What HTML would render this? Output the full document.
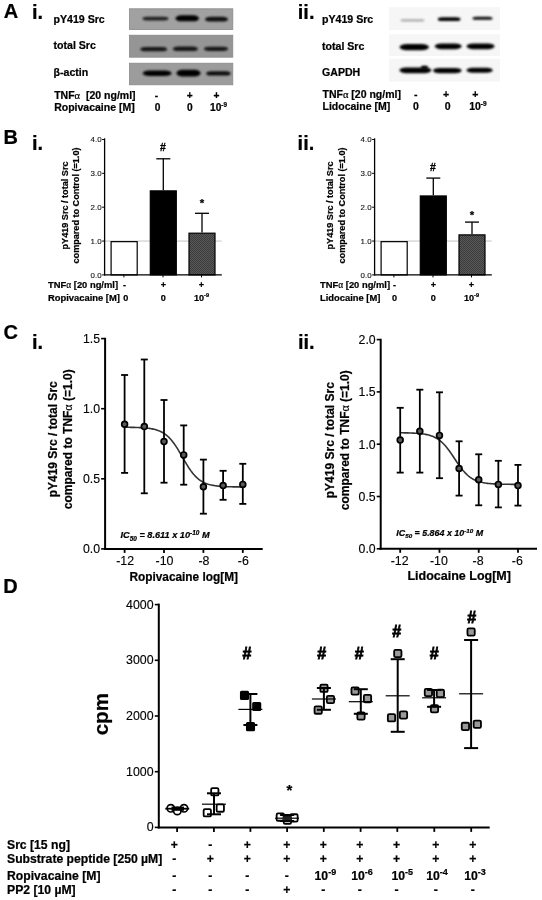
<!DOCTYPE html>
<html><head><meta charset="utf-8"><style>
html,body{margin:0;padding:0;background:#fff;}
svg{display:block;font-family:"Liberation Sans", sans-serif;}
text[font-weight="bold"]{stroke:#000;stroke-width:0.22px;}
text[font-weight="normal"]{stroke:#000;stroke-width:0.12px;}
</style></head><body>
<svg style="will-change:transform" width="542" height="900" viewBox="0 0 542 900">
<defs>
<filter id="bl1" x="-50%" y="-100%" width="200%" height="300%"><feGaussianBlur stdDeviation="1.05"/></filter>
<filter id="bl3" x="-5%" y="-20%" width="110%" height="140%"><feGaussianBlur stdDeviation="0.45"/></filter>
<filter id="bl2" x="-50%" y="-100%" width="200%" height="300%"><feGaussianBlur stdDeviation="0.8"/></filter>
<pattern id="hatch" width="2" height="2" patternUnits="userSpaceOnUse"><rect width="2" height="2" fill="#585858"/><rect width="1" height="1" fill="#3c3c3c"/><rect x="1" y="1" width="1" height="1" fill="#3c3c3c"/></pattern>
</defs>
<rect width="542" height="900" fill="#fff"/>
<text x="3.8" y="17.5" font-size="20" font-weight="bold" text-anchor="start" fill="#000" >A</text>
<text x="31.9" y="18.5" font-size="20" font-weight="bold" text-anchor="start" fill="#000" >i.</text>
<text x="297.8" y="19.2" font-size="20" font-weight="bold" text-anchor="start" fill="#000" >ii.</text>
<text x="53.5" y="23.3" font-size="10.6" font-weight="bold" text-anchor="start" fill="#000" >pY419 Src</text>
<text x="53.5" y="49" font-size="10.6" font-weight="bold" text-anchor="start" fill="#000" >total Src</text>
<text x="53.5" y="76" font-size="10.6" font-weight="bold" text-anchor="start" fill="#000" >β-actin</text>
<text x="322" y="23.3" font-size="10.6" font-weight="bold" text-anchor="start" fill="#000" >pY419 Src</text>
<text x="322" y="49.7" font-size="10.6" font-weight="bold" text-anchor="start" fill="#000" >total Src</text>
<text x="322" y="76.1" font-size="10.6" font-weight="bold" text-anchor="start" fill="#000" >GAPDH</text>
<rect x="129.5" y="8.8" width="103.3" height="20.8" fill="#a1a1a1" stroke="#8a8a8a" stroke-width="0.8" filter="url(#bl3)"/>
<rect x="129.5" y="35.199999999999996" width="103.3" height="22.000000000000004" fill="#959595" stroke="#8a8a8a" stroke-width="0.8" filter="url(#bl3)"/>
<rect x="129.5" y="63.199999999999996" width="103.3" height="21.600000000000005" fill="#9c9c9c" stroke="#8a8a8a" stroke-width="0.8" filter="url(#bl3)"/>
<rect x="142.5" y="16.700000000000003" width="26.0" height="3.8" rx="4.56" ry="1.9" fill="#000" fill-opacity="0.8" filter="url(#bl1)"/>
<rect x="175.5" y="15.3" width="23.5" height="6" rx="5.875" ry="3.0" fill="#000" fill-opacity="1" filter="url(#bl1)"/>
<rect x="205" y="16.8" width="23" height="4.8" rx="5.75" ry="2.4" fill="#000" fill-opacity="0.9" filter="url(#bl1)"/>
<rect x="140.5" y="47.050000000000004" width="26.5" height="4.3" rx="5.159999999999999" ry="2.15" fill="#000" fill-opacity="0.85" filter="url(#bl1)"/>
<rect x="172.8" y="46.5" width="25.19999999999999" height="4.6" rx="5.52" ry="2.3" fill="#000" fill-opacity="0.85" filter="url(#bl1)"/>
<rect x="204" y="46.699999999999996" width="24" height="4.2" rx="5.04" ry="2.1" fill="#000" fill-opacity="0.85" filter="url(#bl1)"/>
<rect x="142.8" y="70.4" width="28.69999999999999" height="5.6" rx="6.72" ry="2.8" fill="#000" fill-opacity="1" filter="url(#bl1)"/>
<rect x="176.5" y="69.8" width="24.0" height="6.8" rx="6.0" ry="3.4" fill="#000" fill-opacity="1" filter="url(#bl1)"/>
<rect x="206.3" y="71.2" width="24.19999999999999" height="4.4" rx="5.28" ry="2.2" fill="#000" fill-opacity="0.92" filter="url(#bl1)"/>
<rect x="389" y="7.2" width="111" height="22.8" fill="#f6f6f6" stroke="none" stroke-width="1" />
<rect x="389" y="34.3" width="111" height="21.700000000000003" fill="#f6f6f6" stroke="none" stroke-width="1" />
<rect x="389" y="58.8" width="111" height="22.799999999999997" fill="#f6f6f6" stroke="none" stroke-width="1" />
<rect x="400.5" y="19.299999999999997" width="24.0" height="2.2" rx="2.64" ry="1.1" fill="#000" fill-opacity="0.32" filter="url(#bl2)"/>
<rect x="437.8" y="17.3" width="22.69999999999999" height="3.8" rx="4.56" ry="1.9" fill="#000" fill-opacity="1" filter="url(#bl2)"/>
<rect x="472.5" y="16.7" width="20.0" height="3" rx="3.5999999999999996" ry="1.5" fill="#000" fill-opacity="0.95" filter="url(#bl2)"/>
<rect x="399.5" y="44.0" width="29.5" height="6.2" rx="7.375" ry="3.1" fill="#000" fill-opacity="1" filter="url(#bl2)"/>
<rect x="434.8" y="43.4" width="26.80000000000001" height="5.8" rx="6.700000000000003" ry="2.9" fill="#000" fill-opacity="1" filter="url(#bl2)"/>
<rect x="466.5" y="43.4" width="28.100000000000023" height="5.8" rx="6.96" ry="2.9" fill="#000" fill-opacity="1" filter="url(#bl2)"/>
<rect x="399.4" y="67.39999999999999" width="32.0" height="5.8" rx="6.96" ry="2.9" fill="#000" fill-opacity="1" filter="url(#bl2)"/>
<rect x="433" y="67.89999999999999" width="28.600000000000023" height="5.4" rx="6.48" ry="2.7" fill="#000" fill-opacity="1" filter="url(#bl2)"/>
<rect x="466.6" y="67.8" width="26.0" height="5" rx="6.0" ry="2.5" fill="#000" fill-opacity="1" filter="url(#bl2)"/>
<rect x="421" y="65.75" width="7" height="3.5" rx="1.5" ry="1.75" fill="#000" fill-opacity="1" filter="url(#bl2)"/>
<text x="54.2" y="99.4" font-size="10.5" font-weight="bold" text-anchor="start" fill="#000" xml:space="preserve">TNF<tspan font-family="Liberation Serif" font-weight="normal">α</tspan>  [20 ng/ml]</text>
<text x="54.2" y="110.5" font-size="10.5" font-weight="bold" text-anchor="start" fill="#000" >Ropivacaine [M]</text>
<text x="322.5" y="98.3" font-size="10.5" font-weight="bold" text-anchor="start" fill="#000" >TNF<tspan font-family="Liberation Serif" font-weight="normal">α</tspan> [20 ng/ml]</text>
<text x="322.5" y="109.9" font-size="10.5" font-weight="bold" text-anchor="start" fill="#000" >Lidocaine [M]</text>
<text x="156.5" y="99" font-size="10.2" font-weight="bold" text-anchor="middle" fill="#000" >-</text>
<text x="189.8" y="99" font-size="10.2" font-weight="bold" text-anchor="middle" fill="#000" >+</text>
<text x="216.4" y="99" font-size="10.2" font-weight="bold" text-anchor="middle" fill="#000" >+</text>
<text x="157.5" y="110.5" font-size="10.2" font-weight="bold" text-anchor="middle" fill="#000" >0</text>
<text x="189.8" y="110.5" font-size="10.2" font-weight="bold" text-anchor="middle" fill="#000" >0</text>
<text x="218.5" y="110.5" font-size="10.2" font-weight="bold" text-anchor="middle">10<tspan font-size="6.324" dy="-4">-9</tspan></text>
<text x="415.7" y="98.3" font-size="10.5" font-weight="bold" text-anchor="middle" fill="#000" >-</text>
<text x="446" y="98.3" font-size="10.5" font-weight="bold" text-anchor="middle" fill="#000" >+</text>
<text x="475.2" y="98.3" font-size="10.5" font-weight="bold" text-anchor="middle" fill="#000" >+</text>
<text x="416" y="109.9" font-size="10.5" font-weight="bold" text-anchor="middle" fill="#000" >0</text>
<text x="447.6" y="109.9" font-size="10.5" font-weight="bold" text-anchor="middle" fill="#000" >0</text>
<text x="477.9" y="109.9" font-size="10.5" font-weight="bold" text-anchor="middle">10<tspan font-size="6.51" dy="-4">-9</tspan></text>
<text x="3.6" y="143.5" font-size="20" font-weight="bold" text-anchor="start" fill="#000" >B</text>
<text x="31.9" y="149.7" font-size="20" font-weight="bold" text-anchor="start" fill="#000" >i.</text>
<text x="297.6" y="149.6" font-size="20" font-weight="bold" text-anchor="start" fill="#000" >ii.</text>
<line x1="104.6" y1="241.04999999999998" x2="221.6" y2="241.04999999999998" stroke="#999" stroke-width="0.6" />
<rect x="111.1" y="241.64999999999998" width="26.100000000000012" height="33.24999999999999" fill="#fff" stroke="#000" stroke-width="1.2" />
<line x1="163.3" y1="190.27499999999998" x2="163.3" y2="158.79449999999997" stroke="#000" stroke-width="1.3" />
<line x1="156.3" y1="158.79449999999997" x2="170.3" y2="158.79449999999997" stroke="#000" stroke-width="1.3" />
<rect x="150.29999999999998" y="190.87499999999997" width="26.000000000000018" height="84.025" fill="#000" stroke="#000" stroke-width="1.2" />
<line x1="202.0" y1="232.58749999999998" x2="202.0" y2="213.29299999999998" stroke="#000" stroke-width="1.3" />
<line x1="195.0" y1="213.29299999999998" x2="209.0" y2="213.29299999999998" stroke="#000" stroke-width="1.3" />
<rect x="189.0" y="233.18749999999997" width="25.99999999999999" height="41.7125" fill="url(#hatch)" stroke="#000" stroke-width="1.2" />
<line x1="104.6" y1="138.3" x2="104.6" y2="275.5" stroke="#000" stroke-width="1.3" />
<line x1="104.0" y1="274.9" x2="221.8" y2="274.9" stroke="#000" stroke-width="1.3" />
<line x1="102.1" y1="274.9" x2="104.6" y2="274.9" stroke="#000" stroke-width="1" />
<text x="101.6" y="277.59999999999997" font-size="7.9" font-weight="normal" text-anchor="end" fill="#222" stroke="#222" stroke-width="0.15">0.0</text>
<line x1="102.1" y1="241.04999999999998" x2="104.6" y2="241.04999999999998" stroke="#000" stroke-width="1" />
<text x="101.6" y="243.74999999999997" font-size="7.9" font-weight="normal" text-anchor="end" fill="#222" stroke="#222" stroke-width="0.15">1.0</text>
<line x1="102.1" y1="207.2" x2="104.6" y2="207.2" stroke="#000" stroke-width="1" />
<text x="101.6" y="209.89999999999998" font-size="7.9" font-weight="normal" text-anchor="end" fill="#222" stroke="#222" stroke-width="0.15">2.0</text>
<line x1="102.1" y1="173.34999999999997" x2="104.6" y2="173.34999999999997" stroke="#000" stroke-width="1" />
<text x="101.6" y="176.04999999999995" font-size="7.9" font-weight="normal" text-anchor="end" fill="#222" stroke="#222" stroke-width="0.15">3.0</text>
<line x1="102.1" y1="139.49999999999997" x2="104.6" y2="139.49999999999997" stroke="#000" stroke-width="1" />
<text x="101.6" y="142.19999999999996" font-size="7.9" font-weight="normal" text-anchor="end" fill="#222" stroke="#222" stroke-width="0.15">4.0</text>
<line x1="123.9" y1="274.9" x2="123.9" y2="277.4" stroke="#000" stroke-width="1" />
<line x1="163" y1="274.9" x2="163" y2="277.4" stroke="#000" stroke-width="1" />
<line x1="201.5" y1="274.9" x2="201.5" y2="277.4" stroke="#000" stroke-width="1" />
<text x="163" y="151.39999999999998" font-size="10.5" font-weight="bold" text-anchor="middle" fill="#000" style="stroke-width:0.3px">#</text>
<text x="202" y="207.0" font-size="11.5" font-weight="bold" text-anchor="middle" fill="#000" >*</text>
<text transform="translate(67.6,205.5) rotate(-90)" font-size="9.1" font-weight="bold" text-anchor="middle">pY419 Src / total Src</text>
<text transform="translate(78.7,205.5) rotate(-90)" font-size="9.1" font-weight="bold" text-anchor="middle">compared to Control (=1.0)</text>
<text x="48" y="287.9" font-size="9.4" font-weight="bold" text-anchor="start" fill="#000" >TNF<tspan font-family="Liberation Serif" font-weight="normal">α</tspan> [20 ng/ml]</text>
<text x="48" y="300.7" font-size="9.4" font-weight="bold" text-anchor="start" fill="#000" >Ropivacaine [M]</text>
<text x="124.5" y="287.9" font-size="9.1" font-weight="bold" text-anchor="middle" fill="#000" >-</text>
<text x="163.4" y="287.9" font-size="9.1" font-weight="bold" text-anchor="middle" fill="#000" >+</text>
<text x="201.4" y="287.9" font-size="9.1" font-weight="bold" text-anchor="middle" fill="#000" >+</text>
<text x="125.8" y="300.7" font-size="9.1" font-weight="bold" text-anchor="middle" fill="#000" >0</text>
<text x="163.4" y="300.7" font-size="9.1" font-weight="bold" text-anchor="middle" fill="#000" >0</text>
<text x="201.5" y="300.7" font-size="9.1" font-weight="bold" text-anchor="middle">10<tspan font-size="5.6419999999999995" dy="-3.5">-9</tspan></text>
<line x1="374.6" y1="241.04999999999998" x2="491.6" y2="241.04999999999998" stroke="#999" stroke-width="0.6" />
<rect x="381.1" y="241.64999999999998" width="26.100000000000012" height="33.24999999999999" fill="#fff" stroke="#000" stroke-width="1.2" />
<line x1="433.29999999999995" y1="195.35249999999996" x2="433.29999999999995" y2="178.089" stroke="#000" stroke-width="1.3" />
<line x1="426.29999999999995" y1="178.089" x2="440.29999999999995" y2="178.089" stroke="#000" stroke-width="1.3" />
<rect x="420.3" y="195.95249999999996" width="25.99999999999999" height="78.94750000000002" fill="#000" stroke="#000" stroke-width="1.2" />
<line x1="472.0" y1="234.27999999999997" x2="472.0" y2="222.09399999999997" stroke="#000" stroke-width="1.3" />
<line x1="465.0" y1="222.09399999999997" x2="479.0" y2="222.09399999999997" stroke="#000" stroke-width="1.3" />
<rect x="459.0" y="234.87999999999997" width="26.000000000000046" height="40.02" fill="url(#hatch)" stroke="#000" stroke-width="1.2" />
<line x1="374.6" y1="138.3" x2="374.6" y2="275.5" stroke="#000" stroke-width="1.3" />
<line x1="374.0" y1="274.9" x2="491.8" y2="274.9" stroke="#000" stroke-width="1.3" />
<line x1="372.1" y1="274.9" x2="374.6" y2="274.9" stroke="#000" stroke-width="1" />
<text x="371.6" y="277.59999999999997" font-size="7.9" font-weight="normal" text-anchor="end" fill="#222" stroke="#222" stroke-width="0.15">0.0</text>
<line x1="372.1" y1="241.04999999999998" x2="374.6" y2="241.04999999999998" stroke="#000" stroke-width="1" />
<text x="371.6" y="243.74999999999997" font-size="7.9" font-weight="normal" text-anchor="end" fill="#222" stroke="#222" stroke-width="0.15">1.0</text>
<line x1="372.1" y1="207.2" x2="374.6" y2="207.2" stroke="#000" stroke-width="1" />
<text x="371.6" y="209.89999999999998" font-size="7.9" font-weight="normal" text-anchor="end" fill="#222" stroke="#222" stroke-width="0.15">2.0</text>
<line x1="372.1" y1="173.34999999999997" x2="374.6" y2="173.34999999999997" stroke="#000" stroke-width="1" />
<text x="371.6" y="176.04999999999995" font-size="7.9" font-weight="normal" text-anchor="end" fill="#222" stroke="#222" stroke-width="0.15">3.0</text>
<line x1="372.1" y1="139.49999999999997" x2="374.6" y2="139.49999999999997" stroke="#000" stroke-width="1" />
<text x="371.6" y="142.19999999999996" font-size="7.9" font-weight="normal" text-anchor="end" fill="#222" stroke="#222" stroke-width="0.15">4.0</text>
<line x1="393.9" y1="274.9" x2="393.9" y2="277.4" stroke="#000" stroke-width="1" />
<line x1="433" y1="274.9" x2="433" y2="277.4" stroke="#000" stroke-width="1" />
<line x1="471.5" y1="274.9" x2="471.5" y2="277.4" stroke="#000" stroke-width="1" />
<text x="433" y="171.39999999999998" font-size="10.5" font-weight="bold" text-anchor="middle" fill="#000" style="stroke-width:0.3px">#</text>
<text x="471.9" y="218.8" font-size="11.5" font-weight="bold" text-anchor="middle" fill="#000" >*</text>
<text transform="translate(332.7,205.5) rotate(-90)" font-size="9.1" font-weight="bold" text-anchor="middle">pY419 Src / total Src</text>
<text transform="translate(345,205.5) rotate(-90)" font-size="9.1" font-weight="bold" text-anchor="middle">compared to Control (=1.0)</text>
<text x="320" y="287.9" font-size="9.4" font-weight="bold" text-anchor="start" fill="#000" >TNF<tspan font-family="Liberation Serif" font-weight="normal">α</tspan> [20 ng/ml]</text>
<text x="320" y="300.7" font-size="9.4" font-weight="bold" text-anchor="start" fill="#000" >Lidocaine [M]</text>
<text x="394.5" y="287.9" font-size="9.1" font-weight="bold" text-anchor="middle" fill="#000" >-</text>
<text x="433.4" y="287.9" font-size="9.1" font-weight="bold" text-anchor="middle" fill="#000" >+</text>
<text x="471.4" y="287.9" font-size="9.1" font-weight="bold" text-anchor="middle" fill="#000" >+</text>
<text x="394.5" y="300.7" font-size="9.1" font-weight="bold" text-anchor="middle" fill="#000" >0</text>
<text x="433.4" y="300.7" font-size="9.1" font-weight="bold" text-anchor="middle" fill="#000" >0</text>
<text x="471.5" y="300.7" font-size="9.1" font-weight="bold" text-anchor="middle">10<tspan font-size="5.6419999999999995" dy="-3.5">-9</tspan></text>
<text x="3.4" y="338.6" font-size="20" font-weight="bold" text-anchor="start" fill="#000" >C</text>
<text x="31.9" y="349.4" font-size="20" font-weight="bold" text-anchor="start" fill="#000" >i.</text>
<text x="297.9" y="349.3" font-size="20" font-weight="bold" text-anchor="start" fill="#000" >ii.</text>
<line x1="105.1" y1="337.8" x2="105.1" y2="549.9" stroke="#000" stroke-width="2" />
<line x1="104.1" y1="548.9" x2="262.7" y2="548.9" stroke="#000" stroke-width="2" />
<line x1="101.1" y1="548.9" x2="105.1" y2="548.9" stroke="#000" stroke-width="1.6" />
<text x="100.1" y="553.1999999999999" font-size="12.3" font-weight="normal" text-anchor="end" fill="#000" >0.0</text>
<line x1="101.1" y1="478.79999999999995" x2="105.1" y2="478.79999999999995" stroke="#000" stroke-width="1.6" />
<text x="100.1" y="483.09999999999997" font-size="12.3" font-weight="normal" text-anchor="end" fill="#000" >0.5</text>
<line x1="101.1" y1="408.7" x2="105.1" y2="408.7" stroke="#000" stroke-width="1.6" />
<text x="100.1" y="413.0" font-size="12.3" font-weight="normal" text-anchor="end" fill="#000" >1.0</text>
<line x1="101.1" y1="338.6" x2="105.1" y2="338.6" stroke="#000" stroke-width="1.6" />
<text x="100.1" y="342.90000000000003" font-size="12.3" font-weight="normal" text-anchor="end" fill="#000" >1.5</text>
<line x1="124.6" y1="548.9" x2="124.6" y2="552.9" stroke="#000" stroke-width="1.8" />
<text x="125.1" y="564.9" font-size="12.4" font-weight="normal" text-anchor="middle" fill="#000" >-12</text>
<line x1="164.0" y1="548.9" x2="164.0" y2="552.9" stroke="#000" stroke-width="1.8" />
<text x="164.5" y="564.9" font-size="12.4" font-weight="normal" text-anchor="middle" fill="#000" >-10</text>
<line x1="203.39999999999998" y1="548.9" x2="203.39999999999998" y2="552.9" stroke="#000" stroke-width="1.8" />
<text x="203.89999999999998" y="564.9" font-size="12.4" font-weight="normal" text-anchor="middle" fill="#000" >-8</text>
<line x1="242.79999999999998" y1="548.9" x2="242.79999999999998" y2="552.9" stroke="#000" stroke-width="1.8" />
<text x="243.29999999999998" y="564.9" font-size="12.4" font-weight="normal" text-anchor="middle" fill="#000" >-6</text>
<path d="M124.60,427.27L125.59,427.28L126.57,427.29L127.56,427.30L128.54,427.31L129.53,427.32L130.51,427.34L131.49,427.36L132.48,427.37L133.46,427.40L134.45,427.42L135.44,427.45L136.42,427.48L137.41,427.51L138.39,427.55L139.38,427.59L140.36,427.63L141.34,427.69L142.33,427.75L143.31,427.81L144.30,427.89L145.28,427.97L146.27,428.06L147.25,428.17L148.24,428.28L149.22,428.41L150.21,428.55L151.19,428.72L152.18,428.89L153.16,429.10L154.15,429.32L155.14,429.57L156.12,429.84L157.10,430.15L158.09,430.49L159.07,430.87L160.06,431.28L161.04,431.74L162.03,432.25L163.01,432.81L164.00,433.42L164.99,434.09L165.97,434.83L166.95,435.63L167.94,436.50L168.92,437.44L169.91,438.45L170.89,439.54L171.88,440.70L172.86,441.95L173.85,443.26L174.84,444.65L175.82,446.11L176.81,447.63L177.79,449.20L178.77,450.82L179.76,452.49L180.74,454.18L181.73,455.89L182.71,457.61L183.70,459.33L184.69,461.03L185.67,462.71L186.66,464.35L187.64,465.95L188.62,467.49L189.61,468.97L190.59,470.39L191.58,471.73L192.56,473.01L193.55,474.20L194.54,475.32L195.52,476.37L196.50,477.34L197.49,478.23L198.47,479.06L199.46,479.82L200.44,480.52L201.43,481.15L202.41,481.73L203.40,482.26L204.38,482.74L205.37,483.17L206.36,483.56L207.34,483.92L208.32,484.24L209.31,484.53L210.29,484.79L211.28,485.02L212.26,485.23L213.25,485.41L214.23,485.58L215.22,485.73L216.20,485.87L217.19,485.99L218.18,486.10L219.16,486.19L220.14,486.28L221.13,486.36L222.12,486.43L223.10,486.49L224.08,486.54L225.07,486.59L226.06,486.64L227.04,486.68L228.02,486.71L229.01,486.74L230.00,486.77L230.98,486.80L231.96,486.82L232.95,486.84L233.94,486.86L234.92,486.87L235.91,486.88L236.89,486.90L237.88,486.91L238.86,486.92L239.84,486.93L240.83,486.94L241.81,486.94L242.80,486.95" fill="none" stroke="#333" stroke-width="1.6" />
<line x1="124.6" y1="472.9" x2="124.6" y2="375.0" stroke="#000" stroke-width="1.8" />
<line x1="121.1" y1="472.9" x2="128.1" y2="472.9" stroke="#000" stroke-width="1.8" />
<line x1="121.1" y1="375.0" x2="128.1" y2="375.0" stroke="#000" stroke-width="1.8" />
<circle cx="124.6" cy="424.2" r="2.9" fill="#5a5a5a" stroke="#000" stroke-width="1.7"/>
<line x1="144.29999999999998" y1="493.3" x2="144.29999999999998" y2="359.5" stroke="#000" stroke-width="1.8" />
<line x1="140.79999999999998" y1="493.3" x2="147.79999999999998" y2="493.3" stroke="#000" stroke-width="1.8" />
<line x1="140.79999999999998" y1="359.5" x2="147.79999999999998" y2="359.5" stroke="#000" stroke-width="1.8" />
<circle cx="144.29999999999998" cy="426.6" r="2.9" fill="#5a5a5a" stroke="#000" stroke-width="1.7"/>
<line x1="164.0" y1="482.7" x2="164.0" y2="400.0" stroke="#000" stroke-width="1.8" />
<line x1="160.5" y1="482.7" x2="167.5" y2="482.7" stroke="#000" stroke-width="1.8" />
<line x1="160.5" y1="400.0" x2="167.5" y2="400.0" stroke="#000" stroke-width="1.8" />
<circle cx="164.0" cy="441.6" r="2.9" fill="#5a5a5a" stroke="#000" stroke-width="1.7"/>
<line x1="183.7" y1="484.7" x2="183.7" y2="425.4" stroke="#000" stroke-width="1.8" />
<line x1="180.2" y1="484.7" x2="187.2" y2="484.7" stroke="#000" stroke-width="1.8" />
<line x1="180.2" y1="425.4" x2="187.2" y2="425.4" stroke="#000" stroke-width="1.8" />
<circle cx="183.7" cy="454.9" r="2.9" fill="#5a5a5a" stroke="#000" stroke-width="1.7"/>
<line x1="203.39999999999998" y1="513.7" x2="203.39999999999998" y2="459.6" stroke="#000" stroke-width="1.8" />
<line x1="199.89999999999998" y1="513.7" x2="206.89999999999998" y2="513.7" stroke="#000" stroke-width="1.8" />
<line x1="199.89999999999998" y1="459.6" x2="206.89999999999998" y2="459.6" stroke="#000" stroke-width="1.8" />
<circle cx="203.39999999999998" cy="486.8" r="2.9" fill="#5a5a5a" stroke="#000" stroke-width="1.7"/>
<line x1="223.1" y1="499.8" x2="223.1" y2="470.8" stroke="#000" stroke-width="1.8" />
<line x1="219.6" y1="499.8" x2="226.6" y2="499.8" stroke="#000" stroke-width="1.8" />
<line x1="219.6" y1="470.8" x2="226.6" y2="470.8" stroke="#000" stroke-width="1.8" />
<circle cx="223.1" cy="485.6" r="2.9" fill="#5a5a5a" stroke="#000" stroke-width="1.7"/>
<line x1="242.79999999999998" y1="503.9" x2="242.79999999999998" y2="463.8" stroke="#000" stroke-width="1.8" />
<line x1="239.29999999999998" y1="503.9" x2="246.29999999999998" y2="503.9" stroke="#000" stroke-width="1.8" />
<line x1="239.29999999999998" y1="463.8" x2="246.29999999999998" y2="463.8" stroke="#000" stroke-width="1.8" />
<circle cx="242.79999999999998" cy="484.4" r="2.9" fill="#5a5a5a" stroke="#000" stroke-width="1.7"/>
<text x="120.5" y="538.3" font-size="9.2" font-weight="bold" font-style="italic">IC<tspan font-size="6.44" dy="2.21">50</tspan><tspan dy="-2.21"> = 8.611 x 10</tspan><tspan font-size="6.44" dy="-3.31">-10</tspan><tspan dy="3.31"> M</tspan></text>
<text x="183.7" y="581" font-size="11.85" font-weight="bold" text-anchor="middle" fill="#000" >Ropivacaine log[M]</text>
<text transform="translate(57.3,439.3) rotate(-90)" font-size="12" font-weight="bold" text-anchor="middle">pY419 Src / total Src</text>
<text transform="translate(71.6,439.3) rotate(-90)" font-size="12" font-weight="bold" text-anchor="middle">compared to TNF<tspan font-family="Liberation Serif" font-weight="normal">α</tspan> (=1.0)</text>
<line x1="380.7" y1="338.79999999999995" x2="380.7" y2="549.8" stroke="#000" stroke-width="2" />
<line x1="379.7" y1="548.8" x2="537" y2="548.8" stroke="#000" stroke-width="2" />
<line x1="376.7" y1="548.8" x2="380.7" y2="548.8" stroke="#000" stroke-width="1.6" />
<text x="375.7" y="553.0999999999999" font-size="12.3" font-weight="normal" text-anchor="end" fill="#000" >0.0</text>
<line x1="376.7" y1="496.49999999999994" x2="380.7" y2="496.49999999999994" stroke="#000" stroke-width="1.6" />
<text x="375.7" y="500.79999999999995" font-size="12.3" font-weight="normal" text-anchor="end" fill="#000" >0.5</text>
<line x1="376.7" y1="444.19999999999993" x2="380.7" y2="444.19999999999993" stroke="#000" stroke-width="1.6" />
<text x="375.7" y="448.49999999999994" font-size="12.3" font-weight="normal" text-anchor="end" fill="#000" >1.0</text>
<line x1="376.7" y1="391.9" x2="380.7" y2="391.9" stroke="#000" stroke-width="1.6" />
<text x="375.7" y="396.2" font-size="12.3" font-weight="normal" text-anchor="end" fill="#000" >1.5</text>
<line x1="376.7" y1="339.59999999999997" x2="380.7" y2="339.59999999999997" stroke="#000" stroke-width="1.6" />
<text x="375.7" y="343.9" font-size="12.3" font-weight="normal" text-anchor="end" fill="#000" >2.0</text>
<line x1="400.2" y1="548.8" x2="400.2" y2="552.8" stroke="#000" stroke-width="1.8" />
<text x="399.59999999999997" y="564.8" font-size="12.4" font-weight="normal" text-anchor="middle" fill="#000" >-12</text>
<line x1="439.46" y1="548.8" x2="439.46" y2="552.8" stroke="#000" stroke-width="1.8" />
<text x="438.85999999999996" y="564.8" font-size="12.4" font-weight="normal" text-anchor="middle" fill="#000" >-10</text>
<line x1="478.71999999999997" y1="548.8" x2="478.71999999999997" y2="552.8" stroke="#000" stroke-width="1.8" />
<text x="478.11999999999995" y="564.8" font-size="12.4" font-weight="normal" text-anchor="middle" fill="#000" >-8</text>
<line x1="517.98" y1="548.8" x2="517.98" y2="552.8" stroke="#000" stroke-width="1.8" />
<text x="517.38" y="564.8" font-size="12.4" font-weight="normal" text-anchor="middle" fill="#000" >-6</text>
<path d="M400.20,432.79L401.18,432.80L402.16,432.81L403.14,432.82L404.13,432.84L405.11,432.86L406.09,432.88L407.07,432.90L408.05,432.92L409.03,432.95L410.01,432.98L411.00,433.01L411.98,433.05L412.96,433.09L413.94,433.14L414.92,433.19L415.90,433.25L416.89,433.32L417.87,433.39L418.85,433.47L419.83,433.57L420.81,433.67L421.79,433.79L422.77,433.92L423.76,434.06L424.74,434.22L425.72,434.40L426.70,434.60L427.68,434.82L428.66,435.07L429.64,435.35L430.63,435.65L431.61,435.99L432.59,436.36L433.57,436.77L434.55,437.22L435.53,437.72L436.52,438.27L437.50,438.87L438.48,439.52L439.46,440.23L440.44,441.00L441.42,441.84L442.40,442.74L443.39,443.70L444.37,444.73L445.35,445.83L446.33,446.98L447.31,448.20L448.29,449.48L449.27,450.81L450.26,452.19L451.24,453.61L452.22,455.05L453.20,456.52L454.18,458.01L455.16,459.50L456.15,460.98L457.13,462.44L458.11,463.88L459.09,465.29L460.07,466.65L461.05,467.97L462.03,469.23L463.02,470.44L464.00,471.58L464.98,472.66L465.96,473.67L466.94,474.61L467.92,475.50L468.90,476.31L469.89,477.07L470.87,477.76L471.85,478.40L472.83,478.98L473.81,479.52L474.79,480.00L475.78,480.45L476.76,480.85L477.74,481.21L478.72,481.54L479.70,481.83L480.68,482.10L481.66,482.34L482.65,482.56L483.63,482.75L484.61,482.92L485.59,483.08L486.57,483.22L487.55,483.35L488.53,483.46L489.52,483.56L490.50,483.65L491.48,483.73L492.46,483.80L493.44,483.87L494.42,483.92L495.41,483.98L496.39,484.02L497.37,484.06L498.35,484.10L499.33,484.13L500.31,484.16L501.29,484.19L502.28,484.21L503.26,484.23L504.24,484.25L505.22,484.26L506.20,484.28L507.18,484.29L508.16,484.30L509.15,484.31L510.13,484.32L511.11,484.33L512.09,484.34L513.07,484.35L514.05,484.35L515.04,484.36L516.02,484.36L517.00,484.37L517.98,484.37" fill="none" stroke="#333" stroke-width="1.6" />
<line x1="400.2" y1="472.6" x2="400.2" y2="407.8" stroke="#000" stroke-width="1.8" />
<line x1="396.7" y1="472.6" x2="403.7" y2="472.6" stroke="#000" stroke-width="1.8" />
<line x1="396.7" y1="407.8" x2="403.7" y2="407.8" stroke="#000" stroke-width="1.8" />
<circle cx="400.2" cy="440.1" r="2.9" fill="#5a5a5a" stroke="#000" stroke-width="1.7"/>
<line x1="419.83" y1="472.6" x2="419.83" y2="389.7" stroke="#000" stroke-width="1.8" />
<line x1="416.33" y1="472.6" x2="423.33" y2="472.6" stroke="#000" stroke-width="1.8" />
<line x1="416.33" y1="389.7" x2="423.33" y2="389.7" stroke="#000" stroke-width="1.8" />
<circle cx="419.83" cy="431.3" r="2.9" fill="#5a5a5a" stroke="#000" stroke-width="1.7"/>
<line x1="439.46" y1="478.2" x2="439.46" y2="392.3" stroke="#000" stroke-width="1.8" />
<line x1="435.96" y1="478.2" x2="442.96" y2="478.2" stroke="#000" stroke-width="1.8" />
<line x1="435.96" y1="392.3" x2="442.96" y2="392.3" stroke="#000" stroke-width="1.8" />
<circle cx="439.46" cy="435.4" r="2.9" fill="#5a5a5a" stroke="#000" stroke-width="1.7"/>
<line x1="459.09" y1="495.6" x2="459.09" y2="441.3" stroke="#000" stroke-width="1.8" />
<line x1="455.59" y1="495.6" x2="462.59" y2="495.6" stroke="#000" stroke-width="1.8" />
<line x1="455.59" y1="441.3" x2="462.59" y2="441.3" stroke="#000" stroke-width="1.8" />
<circle cx="459.09" cy="468.5" r="2.9" fill="#5a5a5a" stroke="#000" stroke-width="1.7"/>
<line x1="478.71999999999997" y1="505.3" x2="478.71999999999997" y2="454.3" stroke="#000" stroke-width="1.8" />
<line x1="475.21999999999997" y1="505.3" x2="482.21999999999997" y2="505.3" stroke="#000" stroke-width="1.8" />
<line x1="475.21999999999997" y1="454.3" x2="482.21999999999997" y2="454.3" stroke="#000" stroke-width="1.8" />
<circle cx="478.71999999999997" cy="479.7" r="2.9" fill="#5a5a5a" stroke="#000" stroke-width="1.7"/>
<line x1="498.34999999999997" y1="507.4" x2="498.34999999999997" y2="460.8" stroke="#000" stroke-width="1.8" />
<line x1="494.84999999999997" y1="507.4" x2="501.84999999999997" y2="507.4" stroke="#000" stroke-width="1.8" />
<line x1="494.84999999999997" y1="460.8" x2="501.84999999999997" y2="460.8" stroke="#000" stroke-width="1.8" />
<circle cx="498.34999999999997" cy="484.4" r="2.9" fill="#5a5a5a" stroke="#000" stroke-width="1.7"/>
<line x1="517.98" y1="505.6" x2="517.98" y2="464.9" stroke="#000" stroke-width="1.8" />
<line x1="514.48" y1="505.6" x2="521.48" y2="505.6" stroke="#000" stroke-width="1.8" />
<line x1="514.48" y1="464.9" x2="521.48" y2="464.9" stroke="#000" stroke-width="1.8" />
<circle cx="517.98" cy="485.6" r="2.9" fill="#5a5a5a" stroke="#000" stroke-width="1.7"/>
<text x="396.3" y="535.8" font-size="8.9" font-weight="bold" font-style="italic">IC<tspan font-size="6.23" dy="2.14">50</tspan><tspan dy="-2.14"> = 5.864 x 10</tspan><tspan font-size="6.23" dy="-3.20">-10</tspan><tspan dy="3.20"> M</tspan></text>
<text x="459.2" y="580" font-size="12.5" font-weight="bold" text-anchor="middle" fill="#000" >Lidocaine Log[M]</text>
<text transform="translate(334,440.2) rotate(-90)" font-size="12" font-weight="bold" text-anchor="middle">pY419 Src / total Src</text>
<text transform="translate(348.7,440.2) rotate(-90)" font-size="12" font-weight="bold" text-anchor="middle">compared to TNF<tspan font-family="Liberation Serif" font-weight="normal">α</tspan> (=1.0)</text>
<text x="3.3" y="592.7" font-size="20" font-weight="bold" text-anchor="start" fill="#000" >D</text>
<line x1="158.8" y1="603.6" x2="158.8" y2="828.4" stroke="#000" stroke-width="2" />
<line x1="157.8" y1="827.4" x2="489.7" y2="827.4" stroke="#000" stroke-width="2" />
<line x1="154.8" y1="827.4" x2="158.8" y2="827.4" stroke="#000" stroke-width="1.6" />
<text x="153.60000000000002" y="831.3" font-size="12.4" font-weight="normal" text-anchor="end" fill="#000" >0</text>
<line x1="154.8" y1="771.6999999999999" x2="158.8" y2="771.6999999999999" stroke="#000" stroke-width="1.6" />
<text x="153.60000000000002" y="775.5999999999999" font-size="12.4" font-weight="normal" text-anchor="end" fill="#000" >1000</text>
<line x1="154.8" y1="716.0" x2="158.8" y2="716.0" stroke="#000" stroke-width="1.6" />
<text x="153.60000000000002" y="719.9" font-size="12.4" font-weight="normal" text-anchor="end" fill="#000" >2000</text>
<line x1="154.8" y1="660.3" x2="158.8" y2="660.3" stroke="#000" stroke-width="1.6" />
<text x="153.60000000000002" y="664.1999999999999" font-size="12.4" font-weight="normal" text-anchor="end" fill="#000" >3000</text>
<line x1="154.8" y1="604.5999999999999" x2="158.8" y2="604.5999999999999" stroke="#000" stroke-width="1.6" />
<text x="153.60000000000002" y="608.4999999999999" font-size="12.4" font-weight="normal" text-anchor="end" fill="#000" >4000</text>
<text transform="translate(108,714.2) rotate(-90)" font-size="20.5" font-weight="bold" text-anchor="middle">cpm</text>
<line x1="177.1" y1="827.4" x2="177.1" y2="831.9" stroke="#000" stroke-width="1.8" />
<line x1="213.9" y1="827.4" x2="213.9" y2="831.9" stroke="#000" stroke-width="1.8" />
<line x1="250.4" y1="827.4" x2="250.4" y2="831.9" stroke="#000" stroke-width="1.8" />
<line x1="287.1" y1="827.4" x2="287.1" y2="831.9" stroke="#000" stroke-width="1.8" />
<line x1="323.8" y1="827.4" x2="323.8" y2="831.9" stroke="#000" stroke-width="1.8" />
<line x1="360.6" y1="827.4" x2="360.6" y2="831.9" stroke="#000" stroke-width="1.8" />
<line x1="397.3" y1="827.4" x2="397.3" y2="831.9" stroke="#000" stroke-width="1.8" />
<line x1="434.3" y1="827.4" x2="434.3" y2="831.9" stroke="#000" stroke-width="1.8" />
<line x1="471.2" y1="827.4" x2="471.2" y2="831.9" stroke="#000" stroke-width="1.8" />
<circle cx="170.8" cy="808.3" r="3.7" fill="#fff" stroke="#000" stroke-width="1.7"/>
<circle cx="177.3" cy="811" r="3.7" fill="#fff" stroke="#000" stroke-width="1.7"/>
<circle cx="184" cy="808.3" r="3.7" fill="#fff" stroke="#000" stroke-width="1.7"/>
<line x1="165.3" y1="808.7" x2="189.2" y2="808.7" stroke="#000" stroke-width="1.8" />
<rect x="171.5" y="806.6" width="12.5" height="4.2" fill="#000" stroke="none" stroke-width="1" />
<rect x="211.15" y="788.15" width="7.3" height="7.3" fill="#fff" stroke="#000" stroke-width="1.8" rx="1.3"/>
<rect x="216.65" y="804.45" width="7.3" height="7.3" fill="#fff" stroke="#000" stroke-width="1.8" rx="1.3"/>
<rect x="203.65" y="809.15" width="7.3" height="7.3" fill="#fff" stroke="#000" stroke-width="1.8" rx="1.3"/>
<line x1="214" y1="793.3" x2="214" y2="814.3" stroke="#000" stroke-width="2" />
<line x1="207" y1="793.3" x2="221" y2="793.3" stroke="#000" stroke-width="2" />
<line x1="207" y1="814.3" x2="221" y2="814.3" stroke="#000" stroke-width="2" />
<line x1="202" y1="804.2" x2="226" y2="804.2" stroke="#000" stroke-width="1.2" />
<rect x="240.85" y="691.75" width="7.3" height="7.3" fill="#000" stroke="#000" stroke-width="1.8" rx="0.6"/>
<rect x="253.04999999999998" y="702.85" width="7.3" height="7.3" fill="#000" stroke="#000" stroke-width="1.8" rx="0.6"/>
<rect x="246.85" y="722.95" width="7.3" height="7.3" fill="#000" stroke="#000" stroke-width="1.8" rx="0.6"/>
<line x1="250.4" y1="694" x2="250.4" y2="725" stroke="#000" stroke-width="2" />
<line x1="243.4" y1="694" x2="257.4" y2="694" stroke="#000" stroke-width="2" />
<line x1="243.4" y1="725" x2="257.4" y2="725" stroke="#000" stroke-width="2" />
<line x1="238.4" y1="709.4" x2="262.4" y2="709.4" stroke="#000" stroke-width="1.2" />
<rect x="276.65" y="813.45" width="7.3" height="7.3" fill="#fff" stroke="#000" stroke-width="1.8" rx="1.3"/>
<rect x="283.74999999999994" y="816.45" width="7.3" height="7.3" fill="#fff" stroke="#000" stroke-width="1.8" rx="1.3"/>
<rect x="290.34999999999997" y="814.25" width="7.3" height="7.3" fill="#fff" stroke="#000" stroke-width="1.8" rx="1.3"/>
<line x1="287.1" y1="815" x2="287.1" y2="821" stroke="#000" stroke-width="2" />
<line x1="280.1" y1="815" x2="294.1" y2="815" stroke="#000" stroke-width="2" />
<line x1="280.1" y1="821" x2="294.1" y2="821" stroke="#000" stroke-width="2" />
<line x1="275.1" y1="818.2" x2="299.1" y2="818.2" stroke="#000" stroke-width="1.2" />
<rect x="282.5" y="816.3" width="9.5" height="4" fill="#222" stroke="none" stroke-width="1" />
<text x="289.3" y="794.8" font-size="15" font-weight="bold" text-anchor="middle" fill="#000" >*</text>
<rect x="320.34999999999997" y="684.65" width="7.3" height="7.3" fill="#9a9a9a" stroke="#000" stroke-width="1.8" rx="1.3"/>
<rect x="326.84999999999997" y="695.85" width="7.3" height="7.3" fill="#9a9a9a" stroke="#000" stroke-width="1.8" rx="1.3"/>
<rect x="314.54999999999995" y="706.45" width="7.3" height="7.3" fill="#9a9a9a" stroke="#000" stroke-width="1.8" rx="1.3"/>
<line x1="323.9" y1="688" x2="323.9" y2="709.8" stroke="#000" stroke-width="2" />
<line x1="316.9" y1="688" x2="330.9" y2="688" stroke="#000" stroke-width="2" />
<line x1="316.9" y1="709.8" x2="330.9" y2="709.8" stroke="#000" stroke-width="2" />
<line x1="311.9" y1="699" x2="335.9" y2="699" stroke="#000" stroke-width="1.2" />
<rect x="351.45" y="687.35" width="7.3" height="7.3" fill="#9a9a9a" stroke="#000" stroke-width="1.8" rx="1.3"/>
<rect x="363.84999999999997" y="694.95" width="7.3" height="7.3" fill="#9a9a9a" stroke="#000" stroke-width="1.8" rx="1.3"/>
<rect x="357.34999999999997" y="712.35" width="7.3" height="7.3" fill="#9a9a9a" stroke="#000" stroke-width="1.8" rx="1.3"/>
<line x1="360.8" y1="689.2" x2="360.8" y2="713.8" stroke="#000" stroke-width="2" />
<line x1="353.8" y1="689.2" x2="367.8" y2="689.2" stroke="#000" stroke-width="2" />
<line x1="353.8" y1="713.8" x2="367.8" y2="713.8" stroke="#000" stroke-width="2" />
<line x1="348.8" y1="701.7" x2="372.8" y2="701.7" stroke="#000" stroke-width="1.2" />
<rect x="394.15" y="649.85" width="7.3" height="7.3" fill="#9a9a9a" stroke="#000" stroke-width="1.8" rx="1.3"/>
<rect x="387.84999999999997" y="714.15" width="7.3" height="7.3" fill="#9a9a9a" stroke="#000" stroke-width="1.8" rx="1.3"/>
<rect x="399.84999999999997" y="711.35" width="7.3" height="7.3" fill="#9a9a9a" stroke="#000" stroke-width="1.8" rx="1.3"/>
<line x1="397.7" y1="659.2" x2="397.7" y2="731.8" stroke="#000" stroke-width="2" />
<line x1="390.7" y1="659.2" x2="404.7" y2="659.2" stroke="#000" stroke-width="2" />
<line x1="390.7" y1="731.8" x2="404.7" y2="731.8" stroke="#000" stroke-width="2" />
<line x1="385.7" y1="695.8" x2="409.7" y2="695.8" stroke="#000" stroke-width="1.2" />
<rect x="424.74999999999994" y="688.85" width="7.3" height="7.3" fill="#9a9a9a" stroke="#000" stroke-width="1.8" rx="1.3"/>
<rect x="436.74999999999994" y="689.75" width="7.3" height="7.3" fill="#9a9a9a" stroke="#000" stroke-width="1.8" rx="1.3"/>
<rect x="430.84999999999997" y="705.0500000000001" width="7.3" height="7.3" fill="#9a9a9a" stroke="#000" stroke-width="1.8" rx="1.3"/>
<line x1="434.1" y1="690" x2="434.1" y2="706.8" stroke="#000" stroke-width="2" />
<line x1="427.1" y1="690" x2="441.1" y2="690" stroke="#000" stroke-width="2" />
<line x1="427.1" y1="706.8" x2="441.1" y2="706.8" stroke="#000" stroke-width="2" />
<line x1="422.1" y1="697.8" x2="446.1" y2="697.8" stroke="#000" stroke-width="1.2" />
<rect x="467.45" y="628.35" width="7.3" height="7.3" fill="#9a9a9a" stroke="#000" stroke-width="1.8" rx="1.3"/>
<rect x="461.74999999999994" y="722.75" width="7.3" height="7.3" fill="#9a9a9a" stroke="#000" stroke-width="1.8" rx="1.3"/>
<rect x="473.65" y="720.5500000000001" width="7.3" height="7.3" fill="#9a9a9a" stroke="#000" stroke-width="1.8" rx="1.3"/>
<line x1="471.1" y1="640" x2="471.1" y2="748.1" stroke="#000" stroke-width="2" />
<line x1="464.1" y1="640" x2="478.1" y2="640" stroke="#000" stroke-width="2" />
<line x1="464.1" y1="748.1" x2="478.1" y2="748.1" stroke="#000" stroke-width="2" />
<line x1="459.1" y1="693.8" x2="483.1" y2="693.8" stroke="#000" stroke-width="1.2" />
<text x="247" y="659.0999999999999" font-size="16" font-weight="bold" text-anchor="middle" fill="#000" style="stroke-width:0.8px">#</text>
<text x="321.8" y="659.1999999999999" font-size="16" font-weight="bold" text-anchor="middle" fill="#000" style="stroke-width:0.8px">#</text>
<text x="359.3" y="659.1999999999999" font-size="16" font-weight="bold" text-anchor="middle" fill="#000" style="stroke-width:0.8px">#</text>
<text x="396.8" y="637.0999999999999" font-size="16" font-weight="bold" text-anchor="middle" fill="#000" style="stroke-width:0.8px">#</text>
<text x="434.2" y="658.9" font-size="16" font-weight="bold" text-anchor="middle" fill="#000" style="stroke-width:0.8px">#</text>
<text x="471.8" y="622.5999999999999" font-size="16" font-weight="bold" text-anchor="middle" fill="#000" style="stroke-width:0.8px">#</text>
<text x="7" y="848.8" font-size="12.2" font-weight="bold" text-anchor="start" fill="#000" >Src [15 ng]</text>
<text x="7" y="862.7" font-size="12.2" font-weight="bold" text-anchor="start" fill="#000" >Substrate peptide [250 µM]</text>
<text x="7" y="879.9" font-size="12.2" font-weight="bold" text-anchor="start" fill="#000" >Ropivacaine [M]</text>
<text x="7" y="893.6" font-size="12.2" font-weight="bold" text-anchor="start" fill="#000" >PP2 [10 µM]</text>
<text x="174.4" y="848.8" font-size="12.2" font-weight="bold" text-anchor="middle" fill="#000" >+</text>
<text x="210.3" y="848.8" font-size="12.2" font-weight="bold" text-anchor="middle" fill="#000" >-</text>
<text x="247.3" y="848.8" font-size="12.2" font-weight="bold" text-anchor="middle" fill="#000" >+</text>
<text x="286.8" y="848.8" font-size="12.2" font-weight="bold" text-anchor="middle" fill="#000" >+</text>
<text x="323.3" y="848.8" font-size="12.2" font-weight="bold" text-anchor="middle" fill="#000" >+</text>
<text x="359.9" y="848.8" font-size="12.2" font-weight="bold" text-anchor="middle" fill="#000" >+</text>
<text x="396.6" y="848.8" font-size="12.2" font-weight="bold" text-anchor="middle" fill="#000" >+</text>
<text x="435.8" y="848.8" font-size="12.2" font-weight="bold" text-anchor="middle" fill="#000" >+</text>
<text x="472.9" y="848.8" font-size="12.2" font-weight="bold" text-anchor="middle" fill="#000" >+</text>
<text x="174.4" y="862.7" font-size="12.2" font-weight="bold" text-anchor="middle" fill="#000" >-</text>
<text x="210.3" y="862.7" font-size="12.2" font-weight="bold" text-anchor="middle" fill="#000" >+</text>
<text x="247.3" y="862.7" font-size="12.2" font-weight="bold" text-anchor="middle" fill="#000" >+</text>
<text x="286.8" y="862.7" font-size="12.2" font-weight="bold" text-anchor="middle" fill="#000" >+</text>
<text x="323.3" y="862.7" font-size="12.2" font-weight="bold" text-anchor="middle" fill="#000" >+</text>
<text x="359.9" y="862.7" font-size="12.2" font-weight="bold" text-anchor="middle" fill="#000" >+</text>
<text x="396.6" y="862.7" font-size="12.2" font-weight="bold" text-anchor="middle" fill="#000" >+</text>
<text x="435.8" y="862.7" font-size="12.2" font-weight="bold" text-anchor="middle" fill="#000" >+</text>
<text x="472.9" y="862.7" font-size="12.2" font-weight="bold" text-anchor="middle" fill="#000" >+</text>
<text x="174.4" y="879.9" font-size="12.2" font-weight="bold" text-anchor="middle" fill="#000" >-</text>
<text x="210.3" y="879.9" font-size="12.2" font-weight="bold" text-anchor="middle" fill="#000" >-</text>
<text x="247.3" y="879.9" font-size="12.2" font-weight="bold" text-anchor="middle" fill="#000" >-</text>
<text x="286.8" y="879.9" font-size="12.2" font-weight="bold" text-anchor="middle" fill="#000" >-</text>
<text x="314.6" y="879.9" font-size="12.2" font-weight="bold">10<tspan font-size="9" dy="-4.6">-9</tspan></text>
<text x="351.3" y="879.9" font-size="12.2" font-weight="bold">10<tspan font-size="9" dy="-4.6">-6</tspan></text>
<text x="391.4" y="879.9" font-size="12.2" font-weight="bold">10<tspan font-size="9" dy="-4.6">-5</tspan></text>
<text x="426.2" y="879.9" font-size="12.2" font-weight="bold">10<tspan font-size="9" dy="-4.6">-4</tspan></text>
<text x="464.2" y="879.9" font-size="12.2" font-weight="bold">10<tspan font-size="9" dy="-4.6">-3</tspan></text>
<text x="174.4" y="893.6" font-size="12.2" font-weight="bold" text-anchor="middle" fill="#000" >-</text>
<text x="210.3" y="893.6" font-size="12.2" font-weight="bold" text-anchor="middle" fill="#000" >-</text>
<text x="247.3" y="893.6" font-size="12.2" font-weight="bold" text-anchor="middle" fill="#000" >-</text>
<text x="286.8" y="893.6" font-size="12.2" font-weight="bold" text-anchor="middle" fill="#000" >+</text>
<text x="323.3" y="893.6" font-size="12.2" font-weight="bold" text-anchor="middle" fill="#000" >-</text>
<text x="359.9" y="893.6" font-size="12.2" font-weight="bold" text-anchor="middle" fill="#000" >-</text>
<text x="396.6" y="893.6" font-size="12.2" font-weight="bold" text-anchor="middle" fill="#000" >-</text>
<text x="435.8" y="893.6" font-size="12.2" font-weight="bold" text-anchor="middle" fill="#000" >-</text>
<text x="472.9" y="893.6" font-size="12.2" font-weight="bold" text-anchor="middle" fill="#000" >-</text>
</svg>
</body></html>
